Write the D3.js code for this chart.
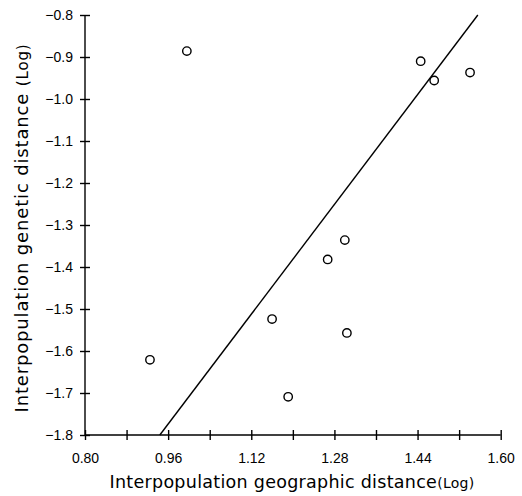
<html lang="en">
<head>
    <meta charset="UTF-8"/>
    <title>Genetic vs geographic distance</title>
    <style>
        body { margin: 0; background: #fff; }
        svg { display: block; }
        .tick text { font-family: "Liberation Sans", Arial, sans-serif; font-size: 14px; fill: #000; }
        .title { font-family: "DejaVu Sans", sans-serif; fill: #000; }
    </style>
</head>
<body>
<svg width="522" height="496"></svg>
<script src="https://cdn.jsdelivr.net/npm/d3@7"></script>
<script>
    // geographic distance (log) vs genetic distance (log)
    const geoDist = [0.996, 1.446, 1.472, 1.541, 1.300, 1.267, 1.160, 1.304, 0.925, 1.191];
    const genDist = [-0.886, -0.910, -0.956, -0.937, -1.336, -1.382, -1.524, -1.557, -1.621, -1.709];
    const fitLine = [[0.944, -1.8], [1.556, -0.8]];
    const xTicks = [0.80, 0.88, 0.96, 1.04, 1.12, 1.20, 1.28, 1.36, 1.44, 1.52, 1.60];
    const xLabels = [0.80, 0.96, 1.12, 1.28, 1.44, 1.60];
    const yTicks = [-0.8, -0.9, -1.0, -1.1, -1.2, -1.3, -1.4, -1.5, -1.6, -1.7, -1.8];

    const svg = d3.select("svg");
    const x = d3.scaleLinear().domain([0.8, 1.6]).range([85, 500.7]);
    const y = d3.scaleLinear().domain([-1.8, -0.8]).range([435, 15]);

    const fmtY = d => (d < 0 ? "\u2212" : "") + Math.abs(d).toFixed(1);

    const xAxis = svg.append("g")
        .attr("transform", `translate(0,${y(-1.8)})`)
        .call(d3.axisBottom(x).tickValues(xTicks).tickSize(5).tickSizeOuter(0)
            .tickFormat(d => xLabels.some(v => Math.abs(v - d) < 1e-6) ? d.toFixed(2) : ""));
    xAxis.selectAll(".tick line").attr("y1", -5).attr("y2", 5);
    xAxis.selectAll(".tick text").attr("dy", 0).attr("y", 28);

    const yAxis = svg.append("g")
        .attr("transform", `translate(${x(0.8)},0)`)
        .call(d3.axisLeft(y).tickValues(yTicks).tickSize(5).tickSizeOuter(0).tickFormat(fmtY));
    yAxis.selectAll(".tick text").attr("x", -12);
    yAxis.selectAll(".tick line").attr("x1", -5).attr("x2", 5);

    svg.selectAll(".domain, .tick line").attr("stroke", "#000").attr("stroke-width", 1.4);
    yAxis.select(".domain").attr("d", `M0,${y(-0.8)}V${y(-1.8)}`);
    xAxis.select(".domain").attr("d", `M${x(0.8)},0H${x(1.6)}`);

    svg.append("path")
        .datum(fitLine)
        .attr("d", d3.line().x(d => x(d[0])).y(d => y(d[1])))
        .attr("fill", "none")
        .attr("stroke", "#000")
        .attr("stroke-width", 1.4);

    svg.append("g")
        .selectAll("circle")
        .data(geoDist.map((g, i) => [g, genDist[i]]))
        .join("circle")
        .attr("cx", d => x(d[0]))
        .attr("cy", d => y(d[1]))
        .attr("r", 4.2)
        .attr("fill", "#fff")
        .attr("stroke", "#000")
        .attr("stroke-width", 1.4);

    // stretch a title to the span it takes in the original figure
    function fitTitle(sel, target) {
        const n = sel.text().length;
        const w = sel.node().getComputedTextLength();
        sel.attr("letter-spacing", Math.max(0, (target - w) / n));
    }

    const xt = svg.append("text").attr("class", "title")
        .attr("x", 292).attr("y", 488).attr("text-anchor", "middle");
    xt.append("tspan").attr("font-size", 17.5).text("Interpopulation geographic distance");
    xt.append("tspan").attr("font-size", 14).text("(Log)");
    fitTitle(xt, 365);

    const yt = svg.append("text").attr("class", "title")
        .attr("transform", "translate(28,228) rotate(-90)").attr("text-anchor", "middle");
    yt.append("tspan").attr("font-size", 18).text("Interpopulation genetic distance ");
    yt.append("tspan").attr("font-size", 15).text("(Log)");
    fitTitle(yt, 369);
</script>
</body>
</html>
